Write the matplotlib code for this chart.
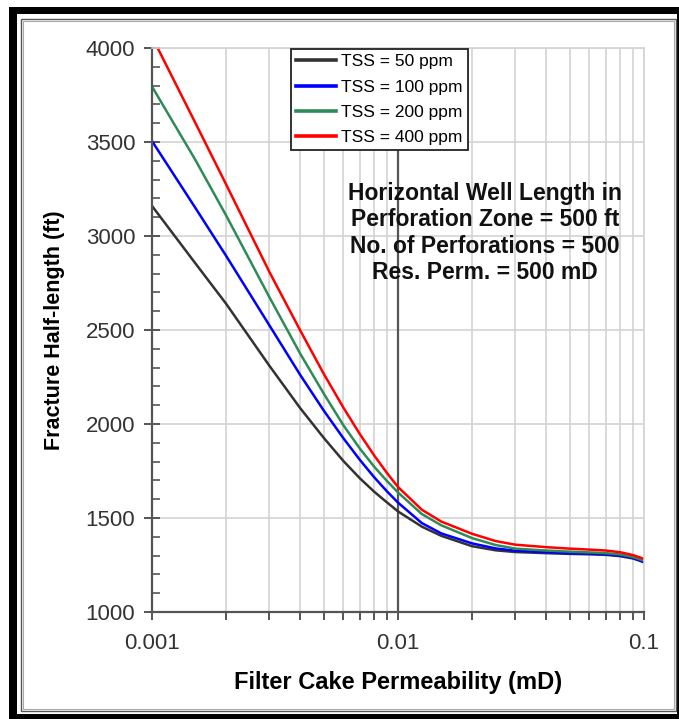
import matplotlib
matplotlib.use("Agg")
import matplotlib.pyplot as plt
from matplotlib.patches import Rectangle
from matplotlib.ticker import LogLocator, FixedLocator, NullFormatter, MultipleLocator

plt.rcParams['font.family'] = ['Liberation Sans', 'DejaVu Sans']

# ---- data ----
perm = [0.001, 0.0015, 0.002, 0.003, 0.004, 0.005, 0.006, 0.007, 0.008, 0.009, 0.01,
        0.0125, 0.015, 0.02, 0.025, 0.03, 0.04, 0.05, 0.06, 0.07, 0.08, 0.09, 0.1]
tss50 = [3160, 2855, 2640, 2310, 2085, 1925, 1803, 1711, 1640, 1584, 1535,
         1454, 1405, 1350, 1328, 1319, 1313, 1309, 1307, 1304, 1297, 1285, 1267]
tss100 = [3505, 3150, 2895, 2525, 2262, 2070, 1924, 1809, 1717, 1643, 1582,
          1473, 1418, 1365, 1338, 1326, 1318, 1313, 1310, 1307, 1300, 1288, 1264]
tss200 = [3795, 3405, 3110, 2675, 2375, 2160, 1993, 1869, 1773, 1698, 1636,
          1521, 1461, 1393, 1356, 1337, 1327, 1321, 1317, 1313, 1306, 1293, 1273]
tss400 = [4060, 3602, 3275, 2809, 2499, 2265, 2087, 1946, 1833, 1741, 1665,
          1544, 1481, 1416, 1377, 1358, 1345, 1337, 1332, 1327, 1318, 1303, 1283]
series_labels = ["TSS = 50 ppm", "TSS = 100 ppm", "TSS = 200 ppm", "TSS = 400 ppm"]
series_colors = ["#333333", "#0000ff", "#2e8b57", "#ff0000"]
x_ticks = [0.001, 0.01, 0.1]
x_tick_labels = ["0.001", "0.01", "0.1"]
y_ticks = [1000, 1500, 2000, 2500, 3000, 3500, 4000]
note = "Horizontal Well Length in\nPerforation Zone = 500 ft\nNo. of Perforations = 500\nRes. Perm. = 500 mD"

W, H = 679, 719
fig = plt.figure(figsize=(W / 100, H / 100), dpi=100)
fig.patch.set_facecolor("white")

def px_rect(x0, y0, x1, y1, **kw):
    r = Rectangle((x0 / W, 1 - y1 / H), (x1 - x0) / W, (y1 - y0) / H,
                  transform=fig.transFigure, **kw)
    fig.add_artist(r)

# outer black frame
px_rect(9, 7, 679, 14, facecolor="black", edgecolor="none")
px_rect(9, 7, 17, 719, facecolor="black", edgecolor="none")
px_rect(9, 714, 679, 719, facecolor="black", edgecolor="none")
px_rect(677, 7, 679, 719, facecolor="black", edgecolor="none")
# inner gray double line
px_rect(21, 19, 675.5, 711, facecolor="none", edgecolor="#555555", linewidth=1.0)
px_rect(23, 21, 673.5, 709, facecolor="none", edgecolor="#aaaaaa", linewidth=0.8)

L, R, T, B = 152, 644, 48, 612
ax = fig.add_axes([L / W, 1 - B / H, (R - L) / W, (B - T) / H])
ax.set_xscale("log")
ax.set_xlim(0.001, 0.1)
ax.set_ylim(1000, 4000)

for vals, lab, col in zip([tss50, tss100, tss200, tss400], series_labels, series_colors):
    ax.plot(perm, vals, color=col, lw=1.8, label=lab, solid_joinstyle="round")

ax.xaxis.set_major_locator(FixedLocator(x_ticks))
ax.set_xticklabels(x_tick_labels)
ax.xaxis.set_minor_locator(LogLocator(base=10, subs=range(2, 10)))
ax.xaxis.set_minor_formatter(NullFormatter())
ax.yaxis.set_major_locator(FixedLocator(y_ticks))
ax.yaxis.set_minor_locator(MultipleLocator(100))

ax.grid(True, which="both", axis="x", color="#d3d3d3", lw=1.2, zorder=0)
ax.grid(True, which="major", axis="y", color="#d3d3d3", lw=1.2, zorder=0)
ax.axvline(0.01, color="#555555", lw=1.6, zorder=1)
ax.set_axisbelow(True)

for s in ["left", "bottom"]:
    ax.spines[s].set_color("#555555")
    ax.spines[s].set_linewidth(1.6)
for s in ["top", "right"]:
    ax.spines[s].set_color("#d3d3d3")
    ax.spines[s].set_linewidth(1.2)

ax.tick_params(axis="y", which="major", direction="inout", length=12, width=1.4,
               color="#555555", labelsize=16, labelcolor="#333333", pad=6)
ax.tick_params(axis="y", which="minor", direction="in", length=6, width=1.2, color="#555555")
ax.tick_params(axis="x", which="both", direction="out", length=6, width=1.4,
               color="#555555", labelsize=16, labelcolor="#333333", pad=9)

ax.set_xlabel("Filter Cake Permeability (mD)", fontsize=17, fontweight="bold", labelpad=12)
ax.set_ylabel("Fracture Half-length (ft)", fontsize=15.5, fontweight="bold", labelpad=15)

leg = ax.legend(loc="upper left", bbox_to_anchor=((291 - L) / (R - L), 1 - (49 - T) / (B - T)),
                fontsize=12.5, frameon=True, fancybox=False, shadow=False,
                handlelength=2.3, handletextpad=0.3, labelspacing=0.58,
                borderpad=0.3, borderaxespad=0)
leg.get_frame().set_edgecolor("#222222")
leg.get_frame().set_linewidth(1.3)
leg.get_frame().set_alpha(1)
for h in leg.get_lines():
    h.set_linewidth(2.6)

ax.text((485 - L) / (R - L), 1 - (233 - T) / (B - T), note, transform=ax.transAxes,
        ha="center", va="center", fontsize=16.5, fontweight="bold", color="#111111",
        linespacing=1.2, zorder=5)

fig.savefig("out.png", dpi=100)
